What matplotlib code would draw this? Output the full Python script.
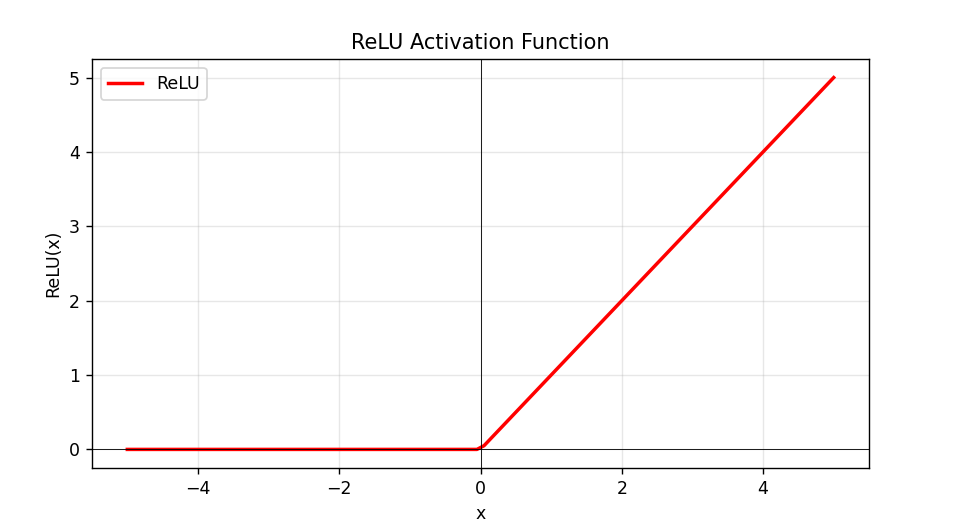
import matplotlib
matplotlib.use("Agg")
import matplotlib.pyplot as plt

x_vals = [-5.0, -0.05, 0.05, 5.0]
relu_vals = [0.0, 0.0, 0.05, 5.0]

x_ticks = [-4, -2, 0, 2, 4]
y_ticks = [0, 1, 2, 3, 4, 5]

dpi = 125
fig = plt.figure(figsize=(955 / dpi, 525 / dpi), dpi=dpi)
ax = fig.add_axes([92 / 955, 1 - 468 / 525, (869 - 92) / 955, (468 - 59) / 525])

ax.plot(x_vals, relu_vals, color='red', linewidth=2, label='ReLU')
ax.axhline(0, color='black', linewidth=0.5)
ax.axvline(0, color='black', linewidth=0.5)

ax.set_xticks(x_ticks)
ax.set_yticks(y_ticks)
ax.grid(True, alpha=0.3)
ax.set_title('ReLU Activation Function')
ax.set_xlabel('x')
ax.set_ylabel('ReLU(x)')
ax.legend(loc='upper left')

fig.savefig('out.png', dpi=dpi)
